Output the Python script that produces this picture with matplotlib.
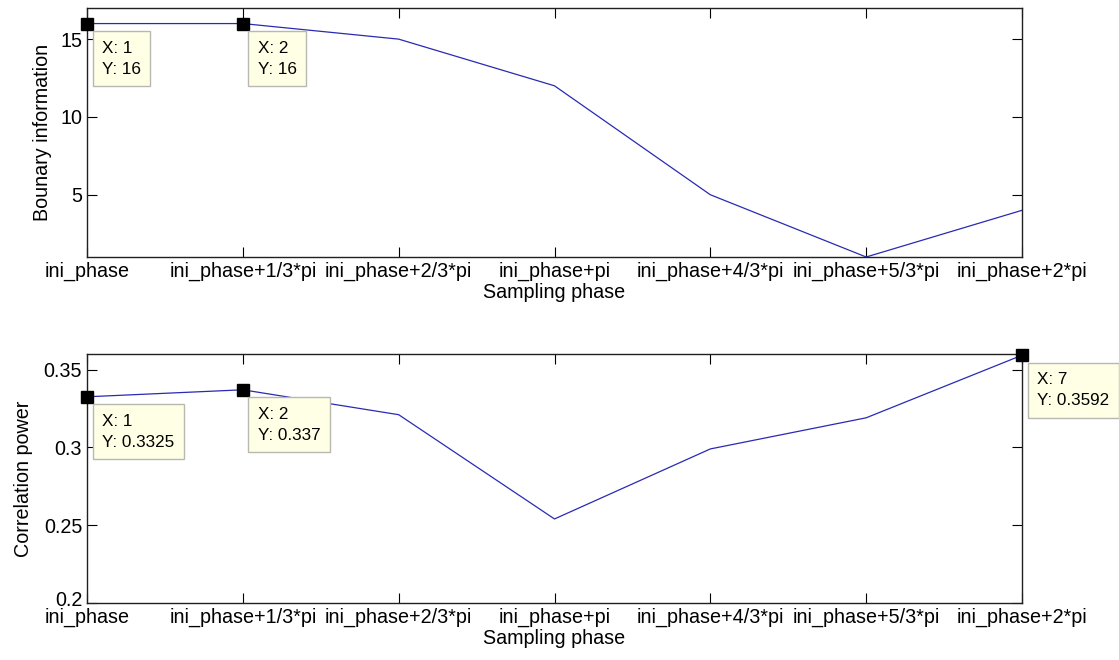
import matplotlib
matplotlib.use("Agg")
import matplotlib.pyplot as plt
from matplotlib.transforms import ScaledTranslation

plt.rcParams.update({
    "font.family": ["Liberation Sans", "DejaVu Sans"],
    "font.size": 14.2,
    "axes.linewidth": 1.0,
    "axes.edgecolor": "#202020",
    "xtick.direction": "in", "ytick.direction": "in",
    "xtick.top": True, "ytick.right": True,
    "xtick.major.size": 7, "ytick.major.size": 7,
    "figure.facecolor": "white",
})

# data
x = [1, 2, 3, 4, 5, 6, 7]
phase_labels = ["ini_phase", "ini_phase+1/3*pi", "ini_phase+2/3*pi", "ini_phase+pi",
                "ini_phase+4/3*pi", "ini_phase+5/3*pi", "ini_phase+2*pi"]
boundary = [16, 16, 15, 12, 5, 1, 4]
corr = [0.3325, 0.337, 0.321, 0.254, 0.299, 0.319, 0.3592]

# data tips shown in the figure: (index, label)
tips_top = [(0, "X: 1\nY: 16"), (1, "X: 2\nY: 16")]
tips_bot = [(0, "X: 1\nY: 0.3325"), (1, "X: 2\nY: 0.337"), (6, "X: 7\nY: 0.3592")]

LINE = "#2a2ab4"
TIP_FC = "#FFFFE6"; TIP_EC = "#B8B8B0"

fig = plt.figure(figsize=(11.19, 6.6), dpi=100)
ax1 = fig.add_axes([87/1119, 1 - 257/660, 935/1119, 249/660])
ax2 = fig.add_axes([87/1119, 1 - 603/660, 935/1119, 249/660])


def datatips(ax, ys, tips):
    for i, txt in tips:
        ax.plot(x[i], ys[i], "s", color="black", ms=8.5, clip_on=False, zorder=5)
        ax.annotate(txt, xy=(x[i], ys[i]), xytext=(15, -17),
                    textcoords="offset pixels", ha="left", va="top",
                    fontsize=12.3, linespacing=1.5, annotation_clip=False,
                    bbox=dict(boxstyle="square,pad=0.55", fc=TIP_FC, ec=TIP_EC, lw=1.0),
                    zorder=6)


ax1.plot(x, boundary, color=LINE, lw=0.9)
ax1.set_xlim(1, 7)
ax1.set_ylim(1, 17)
ax1.set_yticks([5, 10, 15])
ax1.set_xticks(x)
ax1.set_xticklabels(phase_labels)
ax1.set_xlabel("Sampling phase", labelpad=1)
ax1.set_ylabel("Bounary information", labelpad=6)
datatips(ax1, boundary, tips_top)

ax2.plot(x, corr, color=LINE, lw=0.9)
ax2.set_xlim(1, 7)
ax2.set_ylim(0.2, 0.36)
ax2.set_yticks([0.2, 0.25, 0.3, 0.35])
ax2.set_yticklabels(["0.2", "0.25", "0.3", "0.35"])
ax2.set_xticks(x)
ax2.set_xticklabels(phase_labels)
ax2.set_xlabel("Sampling phase", labelpad=1)
ax2.set_ylabel("Correlation power", labelpad=8)
datatips(ax2, corr, tips_bot)

# nudge the lowest y label up so it sits above "ini_phase" like the original
lab = ax2.get_yticklabels()[0]
lab.set_transform(lab.get_transform() + ScaledTranslation(0, 5/100, fig.dpi_scale_trans))

fig.savefig("out.png", dpi=100)
